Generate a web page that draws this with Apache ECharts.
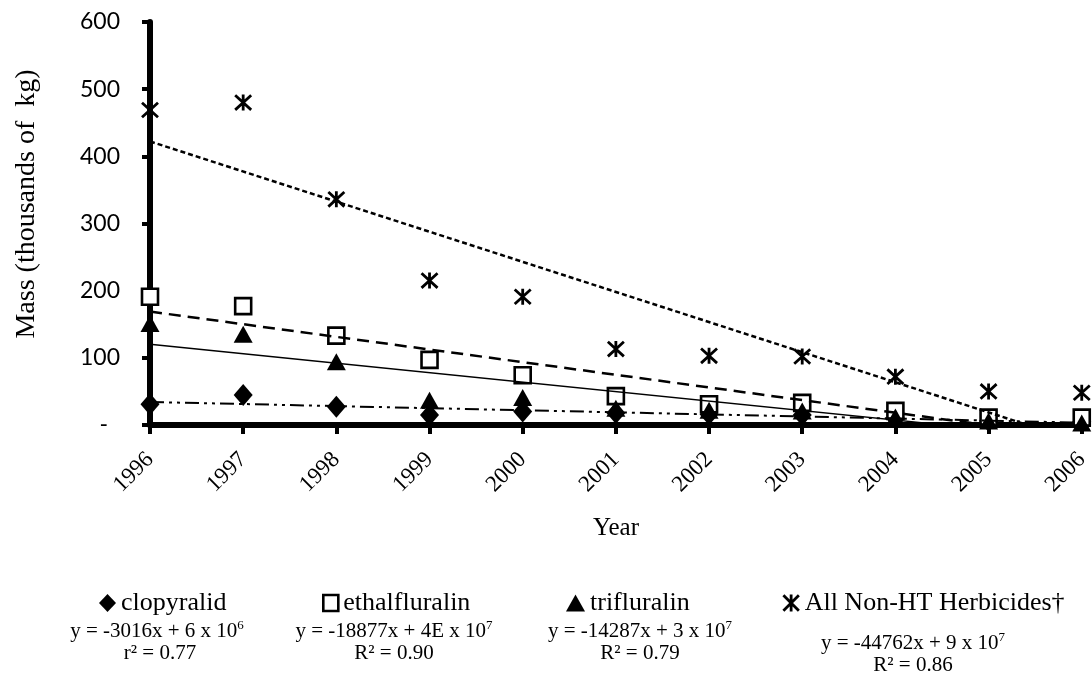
<!DOCTYPE html>
<html>
<head>
<meta charset="utf-8">
<script src="https://cdn.jsdelivr.net/npm/echarts@6/dist/echarts.min.js"></script>
<style>
  html, body { margin: 0; padding: 0; background: #fff; }
  #chart { width: 1092px; height: 677px; }
</style>
</head>
<body>
<div id="chart"></div>
<script>
// Herbicide use by year, thousands of kg
const years = [1996, 1997, 1998, 1999, 2000, 2001, 2002, 2003, 2004, 2005, 2006];
const clopyralid = [31, 44.6, 27, 15, 20, 18, 16, 15, 10, 6, 5];
const ethalfluralin = [191, 177, 133, 97, 74, 43, 31, 33, 21, 11, 11];
const trifluralin = [151, 135, 94, 37, 41, 25, 22, 21, 12, 6, 3];
const nonHT = [469, 480, 336, 215, 191, 113, 103, 102, 72, 50, 48];

const yTickValues = [0, 100, 200, 300, 400, 500, 600];
const yTickLabels = ['-', '100', '200', '300', '400', '500', '600'];

const seriesNames = ['clopyralid', 'ethalfluralin', 'trifluralin', 'All Non-HT Herbicides\u2020'];
const equations = [
  'y = -3016x + 6 x 10{s|6}',
  'y = -18877x + 4E x 10{s|7}',
  'y = -14287x + 3 x 10{s|7}',
  'y = -44762x + 9 x 10{s|7}'
];
const fitLabels = ['r\u00b2 = 0.77', 'R\u00b2 = 0.90', 'R\u00b2 = 0.79', 'R\u00b2 = 0.86'];

const SERIF = '"Liberation Serif", "Times New Roman", serif';
const ASTERISK = 'path://M0,0L20,20M20,0L0,20M10,-1L10,21';

// least-squares straight line through (year, value), returned as its two end points
function trend(values) {
  const n = years.length;
  let sx = 0, sy = 0, sxx = 0, sxy = 0;
  for (let i = 0; i < n; i++) {
    sx += years[i]; sy += values[i];
    sxx += years[i] * years[i]; sxy += years[i] * values[i];
  }
  const slope = (n * sxy - sx * sy) / (n * sxx - sx * sx);
  const icpt = (sy - slope * sx) / n;
  const x0 = years[0], x1 = years[n - 1];
  return [[x0, icpt + slope * x0], [x1, icpt + slope * x1]];
}

const pairs = v => years.map((y, i) => [y, v[i]]);

const markerDefs = [
  { data: clopyralid, symbol: 'diamond', size: [19, 22], style: { color: '#000', opacity: 1 } },
  { data: ethalfluralin, symbol: 'rect', size: 16, style: { color: '#fff', borderColor: '#000', borderWidth: 2.6, opacity: 1 } },
  { data: trifluralin, symbol: 'triangle', size: [19, 17], style: { color: '#000', opacity: 1 } },
  { data: nonHT, symbol: ASTERISK, size: 16, style: { color: 'rgba(0,0,0,0)', borderColor: '#000', borderWidth: 2.8, opacity: 1 } }
];
const trendStyles = [
  { type: [14, 5, 3, 5, 3, 5], width: 2 },
  { type: [12, 7], width: 2.5 },
  { type: 'solid', width: 1.4 },
  { type: [5, 3], width: 2.5 }
];

const series = [];
markerDefs.forEach((m, i) => {
  series.push({
    name: seriesNames[i],
    type: 'scatter',
    data: pairs(m.data),
    symbol: m.symbol,
    symbolSize: m.size,
    itemStyle: m.style,
    z: 2 + i * 0.1,
    silent: true
  });
});
markerDefs.forEach((m, i) => {
  series.push({
    name: seriesNames[i] + ' trend',
    type: 'line',
    data: trend(m.data),
    symbol: 'none',
    clip: true,
    silent: true,
    z: 4,
    lineStyle: { color: '#000', type: trendStyles[i].type, width: trendStyles[i].width }
  });
});

// one legend block per series, laid out across the bottom
const legendLeft = [94, 317, 561, 777];
const legendIconSize = [[17, 18], [15, 16], [19, 17], [17, 17]];
const legends = seriesNames.map((name, i) => ({
  data: [name],
  left: legendLeft[i],
  top: 585,
  icon: markerDefs[i].symbol,
  itemWidth: legendIconSize[i][0],
  itemHeight: legendIconSize[i][1],
  itemGap: 4,
  selectedMode: false,
  itemStyle: markerDefs[i].style,
  textStyle: { fontFamily: SERIF, fontSize: 26, color: '#000', padding: [2, 0, 0, 0] }
}));

const eqCenter = [157, 394, 640, 913];
const eqTop = [631, 631, 631, 643];
const graphics = [
  {
    type: 'text', x: 27, y: 204, rotation: Math.PI / 2,
    style: { text: 'Mass (thousands of  kg)', fontFamily: SERIF, fontSize: 28, fill: '#000', align: 'center', verticalAlign: 'middle' }
  },
  {
    type: 'text', x: 616, y: 528,
    style: { text: 'Year', fontFamily: SERIF, fontSize: 25, fill: '#000', align: 'center', verticalAlign: 'middle' }
  }
];
equations.forEach((eq, i) => {
  graphics.push({
    type: 'text', x: eqCenter[i], y: eqTop[i],
    style: {
      text: eq, fontFamily: SERIF, fontSize: 21, fill: '#000', align: 'center', verticalAlign: 'middle',
      lineHeight: 24,
      rich: { s: { fontFamily: SERIF, fontSize: 13, lineHeight: 24, verticalAlign: 'top', padding: [0, 0, 10, 0], fill: '#000' } }
    }
  });
  graphics.push({
    type: 'text', x: eqCenter[i] + (i === 0 ? 3 : 0), y: eqTop[i] + 22,
    style: { text: fitLabels[i], fontFamily: SERIF, fontSize: 21, fill: '#000', align: 'center', verticalAlign: 'middle' }
  });
});

const chart = echarts.init(document.getElementById('chart'), null, { renderer: 'canvas' });
chart.setOption({
  animation: false,
  backgroundColor: '#fff',
  grid: { left: 150, right: 9, top: 22, bottom: 252, containLabel: false },
  xAxis: {
    type: 'value',
    min: years[0],
    max: years[years.length - 1],
    interval: 1,
    splitLine: { show: false },
    axisLine: { show: true, onZero: false, lineStyle: { color: '#000', width: 6 } },
    axisTick: { show: true, length: 9, lineStyle: { color: '#000', width: 4 } },
    axisLabel: {
      rotate: 45, margin: 31, color: '#000', fontFamily: SERIF, fontSize: 23,
      formatter: v => String(Math.round(v))
    }
  },
  yAxis: {
    type: 'value',
    min: yTickValues[0],
    max: yTickValues[yTickValues.length - 1],
    interval: 100,
    splitLine: { show: false },
    axisLine: { show: true, lineStyle: { color: '#000', width: 6 } },
    axisTick: { show: true, length: 8, lineStyle: { color: '#000', width: 4 } },
    axisLabel: {
      margin: 30, color: '#000', fontFamily: 'Lato, "Open Sans", sans-serif', fontSize: 23,
      formatter: v => {
        const lbl = yTickLabels[yTickValues.indexOf(v)];
        return v === 0 ? '{d|' + lbl + '}' : lbl;
      },
      rich: { d: { fontFamily: 'Lato, sans-serif', fontSize: 23, color: '#000', padding: [0, 12, 0, 0] } }
    }
  },
  legend: legends,
  graphic: graphics,
  series: series
});
</script>
</body>
</html>
